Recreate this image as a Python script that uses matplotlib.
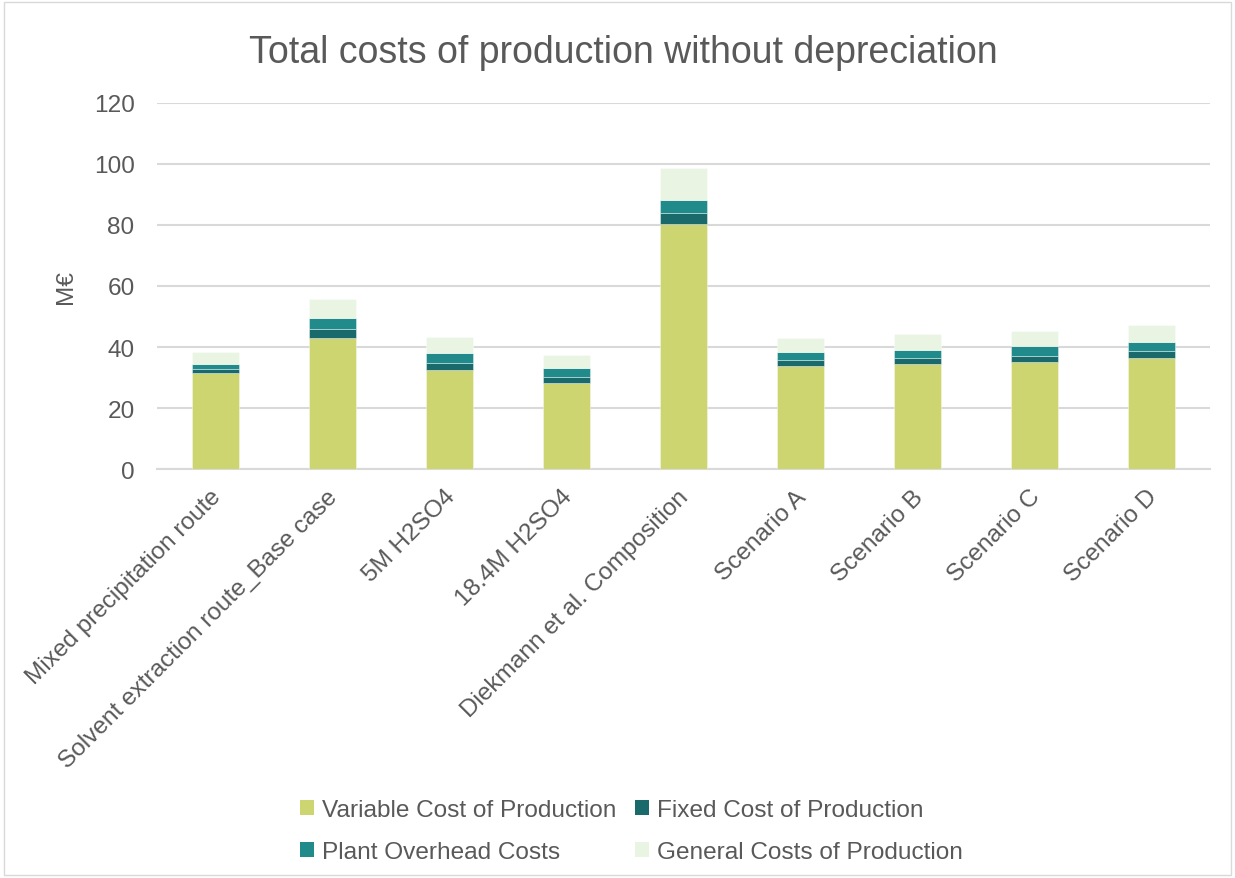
import matplotlib
matplotlib.use("Agg")
import matplotlib.pyplot as plt
import matplotlib.transforms as mtransforms
from matplotlib.patches import Patch, Rectangle
import numpy as np

plt.rcParams['font.family'] = ['Liberation Sans', 'DejaVu Sans']

categories = [
    "Mixed precipitation route",
    "Solvent extraction route_Base case",
    "5M H2SO4",
    "18.4M H2SO4",
    "Diekmann et al. Composition",
    "Scenario A",
    "Scenario B",
    "Scenario C",
    "Scenario D",
]
variable_cost = [31.5, 43.0, 32.4, 28.1, 80.4, 33.8, 34.5, 35.1, 36.5]
fixed_cost = [1.3, 2.9, 2.4, 2.0, 3.6, 1.9, 2.0, 2.1, 2.1]
plant_overhead = [1.5, 3.7, 3.4, 3.1, 4.1, 2.6, 2.7, 3.0, 3.0]
general_cost = [4.1, 6.3, 5.2, 4.3, 10.4, 4.8, 5.1, 5.1, 5.5]

series_names = ["Variable Cost of Production", "Fixed Cost of Production",
                "Plant Overhead Costs", "General Costs of Production"]
series_colors = ["#CCD56F", "#1B6A6B", "#218B8C", "#E9F5E2"]
y_ticks = [0, 20, 40, 60, 80, 100, 120]

text_color = "#595959"
grid_color = "#D9D9D9"
label_size = 17.6

fig = plt.figure(figsize=(12.35, 8.79), dpi=100)
fig.patch.set_facecolor("white")
fig.patches.append(Rectangle((0.003, 0.003), 0.994, 0.994, transform=fig.transFigure,
                             fill=False, edgecolor="#D9D9D9", linewidth=1.0))

ax = fig.add_axes([0.127, 0.465, 0.853, 0.417])

x = np.arange(len(categories))
bottom = np.zeros(len(categories))
for values, color in zip([variable_cost, fixed_cost, plant_overhead, general_cost], series_colors):
    ax.bar(x, values, width=0.4, bottom=bottom, color=color,
           edgecolor=(1, 1, 1, 0.45), linewidth=0.6, zorder=3)
    bottom += np.array(values)

ax.set_xlim(-0.5, len(categories) - 0.5)
ax.set_ylim(0, 120)
ax.set_yticks(y_ticks)
ax.yaxis.grid(True, color=grid_color, linewidth=1.5, zorder=0)
ax.set_axisbelow(True)
for side in ["top", "right", "left"]:
    ax.spines[side].set_visible(False)
ax.spines["bottom"].set_color(grid_color)
ax.spines["bottom"].set_linewidth(1.5)
ax.tick_params(axis="both", length=0, labelsize=label_size, labelcolor=text_color)
ax.tick_params(axis="y", pad=16)

ax.set_xticks(x)
ax.set_xticklabels(categories, rotation=45, ha="right", va="center",
                   rotation_mode="anchor")
offset = mtransforms.ScaledTranslation(2 / 100, -19 / 100, fig.dpi_scale_trans)
for lbl in ax.get_xticklabels():
    lbl.set_transform(lbl.get_transform() + offset)

ax.set_ylabel("M€", fontsize=label_size, color=text_color, labelpad=12)

fig.text(0.505, 0.940, "Total costs of production without depreciation",
         ha="center", va="center", fontsize=27, color=text_color)

handles = [Patch(facecolor=c, edgecolor="none") for c in series_colors]
order = [0, 2, 1, 3]
leg = fig.legend([handles[i] for i in order], [series_names[i] for i in order],
                 ncol=2, loc="center", bbox_to_anchor=(0.511, 0.0535),
                 frameon=False, fontsize=label_size, handlelength=0.6, handleheight=0.6,
                 handletextpad=0.3, columnspacing=0.75, labelspacing=0.82)
for t in leg.get_texts():
    t.set_color(text_color)

fig.savefig("out.png", dpi=100, facecolor="white")
